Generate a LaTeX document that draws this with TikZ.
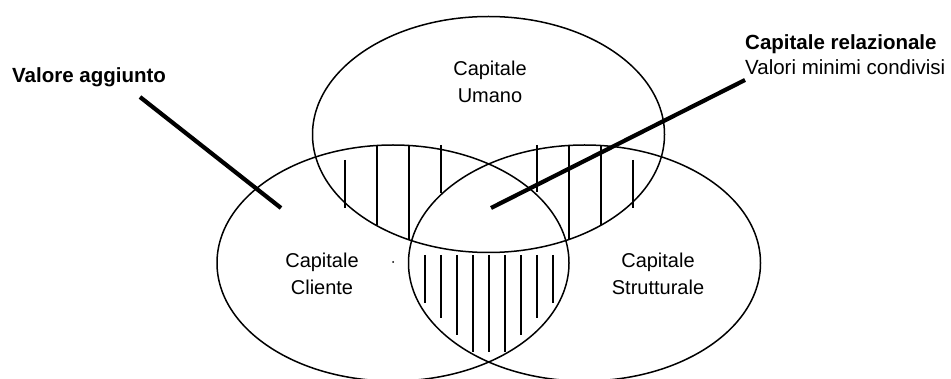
\documentclass[tikz,border=0pt]{standalone}
\usepackage{fontspec}
\setmainfont{Liberation Sans}
\begin{document}
\begin{tikzpicture}[x=1pt,y=-1pt,
  setline/.style={draw=black, line width=1.5pt},
  hatch/.style={draw=black, line width=1.5pt},
  leader/.style={draw=black, line width=4.2pt},
  inlabel/.style={inner sep=0pt, anchor=base, font=\fontsize{20}{27}\selectfont},
  sidelabel/.style={inner sep=0pt, anchor=base west, font=\fontsize{20.5}{25}\selectfont},
]
\useasboundingbox (0,0) rectangle (951,379);

% the three sets
\draw[setline] (488.5,134.5) ellipse [x radius=176pt, y radius=118pt];
\draw[setline] (393,263) ellipse [x radius=176pt, y radius=118pt];
\draw[setline] (584.5,263) ellipse [x radius=176pt, y radius=118pt];

% hatching: Umano and Cliente
\draw[hatch] (345,160) -- (345,208);
\draw[hatch] (377,145) -- (377,225);
\draw[hatch] (409,145) -- (409,240);
\draw[hatch] (441,145) -- (441,193);
% hatching: Umano and Strutturale
\draw[hatch] (537,145) -- (537,192);
\draw[hatch] (569,145) -- (569,240);
\draw[hatch] (601,145) -- (601,225);
\draw[hatch] (633,160) -- (633,208);
% hatching: Cliente and Strutturale
\draw[hatch] (425,255) -- (425,303);
\draw[hatch] (441,255) -- (441,318);
\draw[hatch] (457,255) -- (457,335);
\draw[hatch] (473,255) -- (473,352);
\draw[hatch] (489,255) -- (489,352);
\draw[hatch] (505,255) -- (505,352);
\draw[hatch] (521,255) -- (521,335);
\draw[hatch] (537,255) -- (537,318);
\draw[hatch] (553,255) -- (553,303);

% small centre mark
\fill (393,262) circle [radius=1pt];

% set labels
\node[inlabel] (umano) at (490,76)
  {\begin{tabular}[t]{@{}c@{}}Capitale\\Umano\end{tabular}};
\node[inlabel] (cliente) at (322,268)
  {\begin{tabular}[t]{@{}c@{}}Capitale\\Cliente\end{tabular}};
\node[inlabel] (strutt) at (658,268)
  {\begin{tabular}[t]{@{}c@{}}Capitale\\Strutturale\end{tabular}};

% side annotations
\node[sidelabel, font=\fontsize{20.5}{25}\selectfont\bfseries] (valore) at (12,83) {Valore aggiunto};
\node[sidelabel] (relaz) at (745,50)
  {\begin{tabular}[t]{@{}l@{}}\textbf{Capitale relazionale}\\Valori minimi condivisi\end{tabular}};

% leader lines
\coordinate (valoreA) at (140,97);
\coordinate (valoreB) at (281,208);
\coordinate (relazA) at (745,80);
\coordinate (relazB) at (491,208);
\draw[leader] (valoreA) -- (valoreB);
\draw[leader] (relazA) -- (relazB);
\end{tikzpicture}
\end{document}
